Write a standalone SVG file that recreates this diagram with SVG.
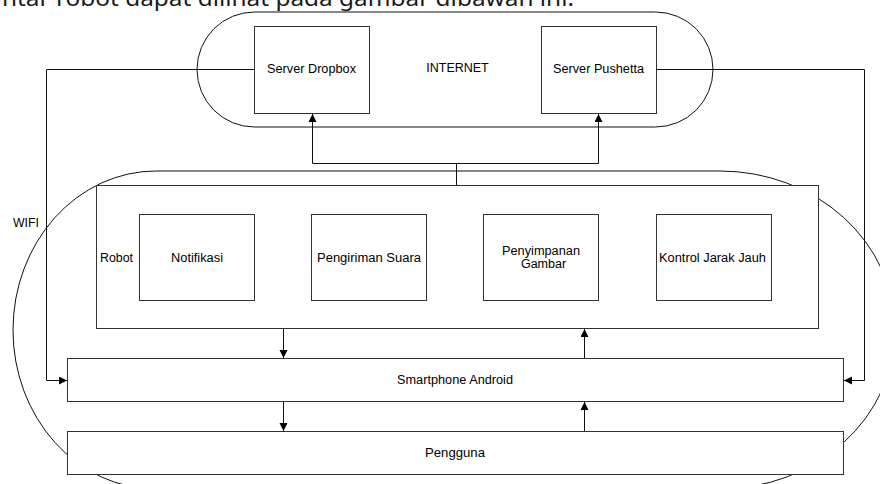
<svg xmlns="http://www.w3.org/2000/svg" width="880" height="484" viewBox="0 0 880 484">
  <style>
    .zone { fill: none; stroke: #111; stroke-width: 1; }
    .box { fill: #fff; stroke: #333; stroke-width: 1; }
    .link { fill: none; stroke: #111; stroke-width: 1; }
    .lbl { font-family: "Liberation Sans", Arial, sans-serif; font-size: 12.5px; fill: #000; }
    .mid { text-anchor: middle; }
    .para { font-family: "Noto Sans", "Open Sans", sans-serif; font-size: 21px; fill: #1a1a1a; }
  </style>
  <defs>
    <marker id="arrow" markerUnits="userSpaceOnUse" markerWidth="9" markerHeight="9" refX="8" refY="4" orient="auto">
      <path d="M0,0 L8,4 L0,8 Z" fill="#000"/>
    </marker>
  </defs>

  <rect width="880" height="484" fill="#fff"/>

  <!-- preceding paragraph line, cut by the top edge -->
  <text class="para" x="2" y="6" textLength="572" lengthAdjust="spacingAndGlyphs">ntar robot dapat dilihat pada gambar dibawah ini.</text>

  <!-- WIFI area -->
  <g id="wifi">
    <path class="zone" d="M156,171 H720 A175,159 0 0 1 720,489 H156 A143,159 0 0 1 156,171 Z"/>
    <text class="lbl" x="13" y="227" textLength="26" lengthAdjust="spacingAndGlyphs">WIFI</text>
  </g>

  <!-- INTERNET area -->
  <g id="internet">
    <rect class="zone" x="197" y="12" width="516" height="115" rx="57.5" ry="57.5"/>
    <text class="lbl mid" x="457.5" y="72">INTERNET</text>
  </g>

  <g id="server-dropbox">
    <rect class="box" x="254.5" y="26.5" width="115" height="87"/>
    <text class="lbl mid" x="311.5" y="73" textLength="89" lengthAdjust="spacingAndGlyphs">Server Dropbox</text>
  </g>

  <g id="server-pushetta">
    <rect class="box" x="541.5" y="26.5" width="115" height="87"/>
    <text class="lbl mid" x="598.5" y="73" textLength="91" lengthAdjust="spacingAndGlyphs">Server Pushetta</text>
  </g>

  <g id="robot">
    <rect class="box" x="96.5" y="185.5" width="722" height="143"/>
    <text class="lbl" x="100" y="262" textLength="33" lengthAdjust="spacingAndGlyphs">Robot</text>
  </g>

  <g id="notifikasi">
    <rect class="box" x="139.5" y="214.5" width="115" height="86"/>
    <text class="lbl mid" x="197" y="262" textLength="52" lengthAdjust="spacingAndGlyphs">Notifikasi</text>
  </g>

  <g id="pengiriman-suara">
    <rect class="box" x="311.5" y="214.5" width="115" height="86"/>
    <text class="lbl mid" x="369" y="262" textLength="104" lengthAdjust="spacingAndGlyphs">Pengiriman Suara</text>
  </g>

  <g id="penyimpanan-gambar">
    <rect class="box" x="483.5" y="214.5" width="115" height="86"/>
    <text class="lbl mid" x="541" y="255" textLength="78" lengthAdjust="spacingAndGlyphs">Penyimpanan</text>
    <text class="lbl mid" x="543.5" y="268">Gambar</text>
  </g>

  <g id="kontrol-jarak-jauh">
    <rect class="box" x="656.5" y="214.5" width="115" height="86"/>
    <text class="lbl mid" x="712.5" y="262" textLength="107" lengthAdjust="spacingAndGlyphs">Kontrol Jarak Jauh</text>
  </g>

  <g id="smartphone-android">
    <rect class="box" x="67.5" y="358.5" width="776" height="43"/>
    <text class="lbl mid" x="455" y="384" textLength="116" lengthAdjust="spacingAndGlyphs">Smartphone Android</text>
  </g>

  <g id="pengguna">
    <rect class="box" x="67.5" y="431.5" width="776" height="43"/>
    <text class="lbl mid" x="455" y="457" textLength="60" lengthAdjust="spacingAndGlyphs">Pengguna</text>
  </g>

  <!-- connectors -->
  <g id="connectors">
    <polyline class="link" points="254.5,69.5 46.5,69.5 46.5,380.5 67,380.5" marker-end="url(#arrow)"/>
    <polyline class="link" points="656.5,69.5 864.5,69.5 864.5,380.5 844,380.5" marker-end="url(#arrow)"/>
    <path class="link" d="M456.5,185 V163.5 M312.5,163.5 H598.5"/>
    <path class="link" d="M312.5,163.5 V114" marker-end="url(#arrow)"/>
    <path class="link" d="M598.5,163.5 V114" marker-end="url(#arrow)"/>
    <path class="link" d="M283.5,329 V358" marker-end="url(#arrow)"/>
    <path class="link" d="M584.5,358 V329" marker-end="url(#arrow)"/>
    <path class="link" d="M283.5,402 V431" marker-end="url(#arrow)"/>
    <path class="link" d="M584.5,431 V402" marker-end="url(#arrow)"/>
  </g>
</svg>
